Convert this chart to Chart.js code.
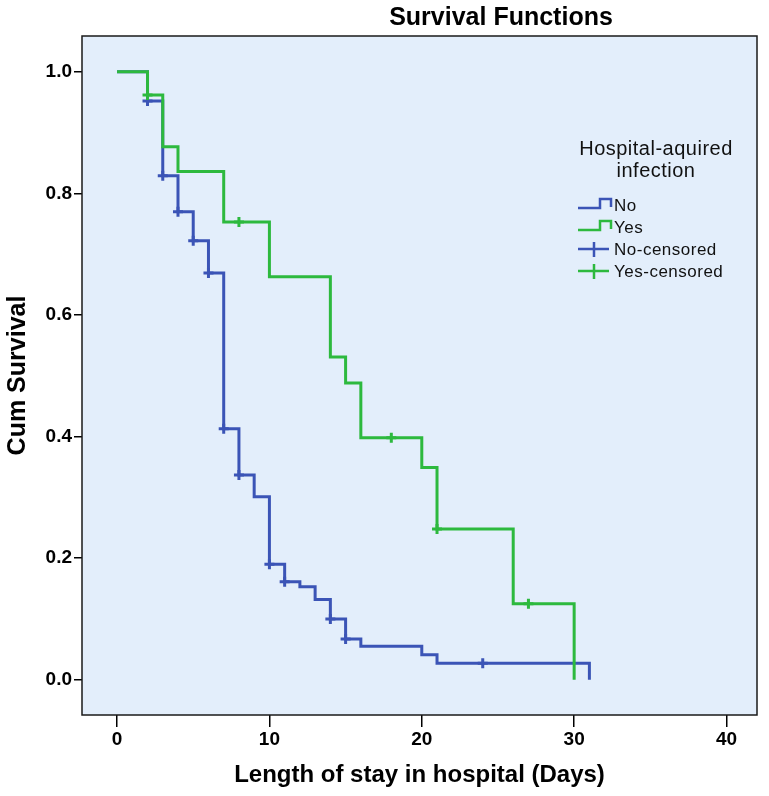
<!DOCTYPE html>
<html>
<head>
<meta charset="utf-8">
<script src="https://cdn.jsdelivr.net/npm/chart.js@4.4.1/dist/chart.umd.min.js"></script>
<style>
  html, body { margin: 0; padding: 0; background: #fff; }
</style>
</head>
<body>
<canvas id="grafico" width="769" height="796"></canvas>
<script>
// dados (Kaplan-Meier)
const tituloGrafico = "Survival Functions";
const tituloX = "Length of stay in hospital (Days)";
const tituloY = "Cum Survival";
const ticksX = [0, 10, 20, 30, 40];
const ticksY = [0, 0.2, 0.4, 0.6, 0.8, 1.0];

const tempoNo = [0, 2, 3, 4, 5, 6, 7, 8, 9, 10, 11, 12, 13, 14, 15, 16, 20, 21, 31];
const sobrevNo = [1.0, 0.952, 0.829, 0.770, 0.722, 0.669, 0.413, 0.337, 0.301, 0.190, 0.161, 0.153, 0.132, 0.100, 0.067, 0.055, 0.041, 0.027, 0.0];
const tempoYes = [0, 2, 3, 4, 7, 10, 14, 15, 16, 20, 21, 26, 30];
const sobrevYes = [1.0, 0.962, 0.877, 0.836, 0.753, 0.663, 0.531, 0.488, 0.398, 0.349, 0.248, 0.125, 0.0];

const censTempoNo = [2, 3, 4, 5, 6, 7, 8, 10, 11, 14, 15, 24];
const censSobrevNo = [0.952, 0.829, 0.770, 0.722, 0.669, 0.413, 0.337, 0.190, 0.161, 0.100, 0.067, 0.027];
const censTempoYes = [2, 8, 18, 21, 27];
const censSobrevYes = [0.962, 0.753, 0.398, 0.248, 0.125];

const tituloLegenda = ["Hospital-aquired", "infection"];
const rotulosLegenda = ["No", "Yes", "No-censored", "Yes-censored"];

const corAzul = "#3b54b6";
const corVerde = "#2db93e";
const corFundo = "#e3eefb";
const fonte = "'Liberation Sans', Arial, sans-serif";

const pontos = (xs, ys) => xs.map((x, i) => ({ x: x, y: ys[i] }));

// fundo, moldura, título e legenda
const moldura = {
  id: "moldura",
  beforeDraw(chart) {
    const { ctx, chartArea: a } = chart;
    ctx.save();
    ctx.fillStyle = corFundo;
    ctx.fillRect(a.left, a.top, a.right - a.left, a.bottom - a.top);
    ctx.restore();
  },
  afterDatasetsDraw(chart) {
    const { ctx, chartArea: a } = chart;
    ctx.save();
    ctx.strokeStyle = "#1a1a1a";
    ctx.lineWidth = 1.5;
    ctx.strokeRect(a.left, a.top, a.right - a.left, a.bottom - a.top);
    ctx.restore();
  },
  afterDraw(chart) {
    const ctx = chart.ctx;
    ctx.save();
    ctx.fillStyle = "#000";
    ctx.textAlign = "center";
    ctx.textBaseline = "middle";
    ctx.font = "bold 25px " + fonte;
    ctx.fillText(tituloGrafico, 501, 18);

    // legenda
    ctx.textBaseline = "alphabetic";
    ctx.fillStyle = "#111";
    ctx.letterSpacing = "0.5px";
    ctx.font = "20px " + fonte;
    tituloLegenda.forEach((t, i) => ctx.fillText(t, 656, 155 + i * 22));

    ctx.textAlign = "left";
    ctx.font = "17px " + fonte;
    const cores = [corAzul, corVerde, corAzul, corVerde];
    rotulosLegenda.forEach((rot, i) => {
      const base = 211 + i * 22;
      ctx.strokeStyle = cores[i];
      ctx.lineWidth = 2.5;
      ctx.beginPath();
      if (i < 2) {
        ctx.moveTo(578, base - 3);
        ctx.lineTo(600, base - 3);
        ctx.lineTo(600, base - 12);
        ctx.lineTo(611, base - 12);
        ctx.lineTo(611, base - 4);
      } else {
        ctx.moveTo(578, base - 6);
        ctx.lineTo(609, base - 6);
        ctx.moveTo(594, base - 13);
        ctx.lineTo(594, base + 2);
      }
      ctx.stroke();
      ctx.fillText(rot, 614, base);
    });
    ctx.restore();
  }
};

const grafico = document.getElementById("grafico");

new Chart(grafico, {
  type: "line",
  data: {
    datasets: [
      {
        label: rotulosLegenda[0],
        data: pontos(tempoNo, sobrevNo),
        borderColor: corAzul,
        borderWidth: 3,
        stepped: "before",
        pointRadius: 0,
        fill: false,
        order: 3,
      },
      {
        label: rotulosLegenda[1],
        data: pontos(tempoYes, sobrevYes),
        borderColor: corVerde,
        borderWidth: 3,
        stepped: "before",
        pointRadius: 0,
        fill: false,
        order: 1,
      },
      {
        label: rotulosLegenda[2],
        data: pontos(censTempoNo, censSobrevNo),
        showLine: false,
        pointStyle: "cross",
        pointRadius: 5,
        pointBorderWidth: 3,
        borderColor: corAzul,
        order: 2,
      },
      {
        label: rotulosLegenda[3],
        data: pontos(censTempoYes, censSobrevYes),
        showLine: false,
        pointStyle: "cross",
        pointRadius: 5,
        pointBorderWidth: 3,
        borderColor: corVerde,
        order: 0,
      },
    ],
  },
  options: {
    responsive: false,
    animation: false,
    layout: { padding: { top: 36, right: 12, left: 0, bottom: 0 } },
    plugins: {
      legend: { display: false },
      tooltip: { enabled: false },
    },
    scales: {
      x: {
        type: "linear",
        min: -2.3,
        max: 42,
        afterBuildTicks: (scale) => { scale.ticks = ticksX.map((v) => ({ value: v })); },
        afterFit: (scale) => { scale.height = 81; },
        grid: { drawOnChartArea: false, drawTicks: true, tickLength: 12, color: "#000", lineWidth: 1.5 },
        border: { display: false },
        ticks: {
          padding: 1,
          color: "#000",
          font: { family: fonte, size: 19, weight: "bold" },
          callback: (v) => String(v),
        },
        title: {
          display: true,
          text: tituloX,
          color: "#000",
          font: { family: fonte, size: 24, weight: "bold" },
          padding: { top: 0, bottom: 6 },
        },
      },
      y: {
        min: -0.058,
        max: 1.059,
        afterBuildTicks: (scale) => { scale.ticks = ticksY.map((v) => ({ value: v })); },
        afterFit: (scale) => { scale.width = 82; },
        grid: { drawOnChartArea: false, drawTicks: true, tickLength: 8, color: "#000", lineWidth: 1.5 },
        border: { display: false },
        ticks: {
          padding: 2,
          color: "#000",
          font: { family: fonte, size: 19, weight: "bold" },
          callback: (v) => v.toFixed(1),
        },
        title: {
          display: true,
          text: tituloY,
          color: "#000",
          font: { family: fonte, size: 25, weight: "bold" },
          padding: { top: 3, bottom: 0 },
        },
      },
    },
  },
  plugins: [moldura],
});
</script>
</body>
</html>
